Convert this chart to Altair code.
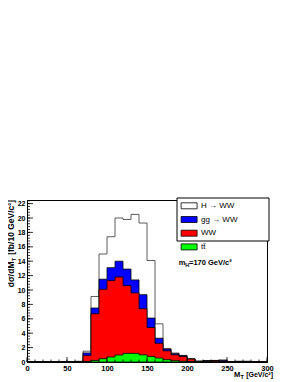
import altair as alt
import pandas as pd

# ---- data (10 GeV bins, stacked levels) ----
bin_lo = [0, 10, 20, 30, 40, 50, 60, 70, 80, 90, 100, 110, 120, 130, 140,
          150, 160, 170, 180, 190, 200, 210, 220, 230, 240, 250, 260, 270, 280, 290]
lvl_hww = [0, 0, 0, 0, 0, 0, 0.10, 1.50, 9.10, 15.0, 17.4, 20.0, 19.8, 20.5, 19.3,
           14.1, 5.3, 1.85, 1.25, 0.92, 0.46, 0.14, 0.20, 0.22, 0.28, 0.05, 0.10, 0.10, 0.05, 0]
lvl_gg = [0, 0, 0, 0, 0, 0, 0.05, 1.26, 7.5, 11.5, 13.1, 14.0, 12.9, 11.4, 9.35,
          6.1, 3.3, 1.80, 1.15, 0.88, 0.43, 0.10, 0.18, 0.20, 0.22, 0.03, 0.08, 0.08, 0.03, 0]
lvl_ww = [0, 0, 0, 0, 0, 0, 0.05, 0.92, 6.7, 10.1, 11.3, 11.8, 10.6, 9.6, 7.4,
          4.8, 2.6, 1.55, 1.0, 0.78, 0.40, 0.07, 0.12, 0.20, 0.05, 0.02, 0.05, 0.05, 0.02, 0]
lvl_tt = [0, 0, 0, 0, 0, 0, 0, 0.05, 0.22, 0.45, 0.69, 0.97, 1.2, 1.2, 1.0,
          0.78, 0.55, 0.32, 0.18, 0.10, 0.05, 0.02, 0.02, 0.02, 0.01, 0.01, 0.01, 0.01, 0, 0]

series_names = ["H \u2192 WW", "gg \u2192 WW", "WW", "tt\u0304"]
series_colors = ["#ffffff", "#0000ff", "#ff0000", "#00ff00"]
x_end = 300

x_labels = [0, 50, 100, 150, 200, 250, 300]
y_labels = [0, 2, 4, 6, 8, 10, 12, 14, 16, 18, 20, 22]
x_minor = [v for v in range(0, 301, 10)]
y_minor = [round(i * 0.4, 2) for i in range(0, 57)]

FONT = "Liberation Sans"
W, H = 240, 162

xs = alt.Scale(domain=[0, 300], nice=False, zero=False)
ys = alt.Scale(domain=[0, 22.5], nice=False)
x_axis = alt.Axis(values=x_labels, ticks=False, grid=False, title=None, labelFontSize=7.5,
                  labelFont=FONT, labelFontWeight="bold", labelPadding=2, labelFlush=False,
                  labelOverlap=False, labelColor="black", domainColor="black")
y_axis = alt.Axis(values=y_labels, ticks=False, grid=False, title=None, labelFontSize=7,
                  labelFont=FONT, labelFontWeight="bold", labelPadding=2, labelFlush=False,
                  labelOverlap=False, labelColor="black", domainColor="black")
X = alt.X("x:Q", scale=xs, axis=x_axis)
Y = alt.Y("y:Q", scale=ys, axis=y_axis)
color = alt.Color(
    "series:N",
    scale=alt.Scale(domain=series_names, range=series_colors),
    legend=alt.Legend(
        orient="none", legendX=157.6, legendY=1.3, title=None, direction="vertical",
        symbolType="M-2,-0.75H2V0.75H-2Z", symbolSize=64, symbolStrokeColor="black",
        symbolStrokeWidth=0.8, symbolOpacity=1, labelFont=FONT, labelFontSize=8,
        labelColor="black", labelOffset=7.4, rowPadding=2.7, padding=0,
    ),
)

layers = []
for name, lvl in zip(series_names, [lvl_hww, lvl_gg, lvl_ww, lvl_tt]):
    df = pd.DataFrame({"x": bin_lo + [x_end], "y": lvl + [0], "series": name})
    stroke = "#333333" if name == series_names[0] else "black"
    layers.append(
        alt.Chart(df).mark_area(interpolate="step-after", stroke=stroke, strokeWidth=0.8,
                                opacity=1).encode(x=X, y=Y, color=color)
    )

# inward ticks (ROOT style)
y_major_df = pd.DataFrame({"y": y_labels})
y_minor_df = pd.DataFrame({"y": y_minor})
x_major_df = pd.DataFrame({"x": x_labels})
x_minor_df = pd.DataFrame({"x": x_minor})
layers.append(alt.Chart(y_major_df).mark_rule(color="black", strokeWidth=0.8).encode(
    y=Y, x=alt.value(0), x2=alt.value(6)))
layers.append(alt.Chart(y_minor_df).mark_rule(color="black", strokeWidth=0.8).encode(
    y=Y, x=alt.value(0), x2=alt.value(3)))
layers.append(alt.Chart(x_major_df).mark_rule(color="black", strokeWidth=0.8).encode(
    x=X, y=alt.value(H), y2=alt.value(H - 5)))
layers.append(alt.Chart(x_minor_df).mark_rule(color="black", strokeWidth=0.8).encode(
    x=X, y=alt.value(H), y2=alt.value(H - 2.5)))

one = pd.DataFrame({"a": [0]})

def txt(text, x, y, size, weight="bold", angle=None, align="left"):
    kw = dict(text=text, font=FONT, fontSize=size, fontWeight=weight, align=align,
              baseline="alphabetic", color="black")
    if angle is not None:
        kw["angle"] = angle
    return alt.Chart(one).mark_text(**kw).encode(x=alt.value(x), y=alt.value(y))

# legend frame
layers.append(alt.Chart(one).mark_rect(fill="white", stroke="black", strokeWidth=1).encode(
    x=alt.value(150), x2=alt.value(242), y=alt.value(-2), y2=alt.value(41)))

# annotation m_H = 170 GeV/c^2
layers.append(txt("m", 151.8, 64.7, 7.5))
layers.append(txt("H", 158.3, 66.7, 5.5))
layers.append(txt("=170 GeV/c\u00b2", 162, 64.7, 7.5))

# x title
layers.append(txt("M", 207, 177, 7.5))
layers.append(txt("T", 213.6, 179, 5.5))
layers.append(txt("[GeV/c\u00b2]", 246, 177, 7, align="right"))

# y title (rotated)
layers.append(txt("[fb/10 GeV/c\u00b2]", -13, 0, 8.5, angle=270, align="right"))
layers.append(txt("T", -11, 57.5, 6, angle=270, align="right"))
layers.append(txt("d\u03c3/dM", -13, 61.5, 8.5, angle=270, align="right"))

chart = alt.layer(*layers).properties(
    width=W, height=H,
    autosize=alt.AutoSizeParams(type="none"),
    padding={"left": 19, "top": 192, "right": 20, "bottom": 18},
    background="white",
).configure_view(stroke="black", strokeWidth=1)

chart.save("out.html", embed_options={"renderer": "svg", "actions": False})
